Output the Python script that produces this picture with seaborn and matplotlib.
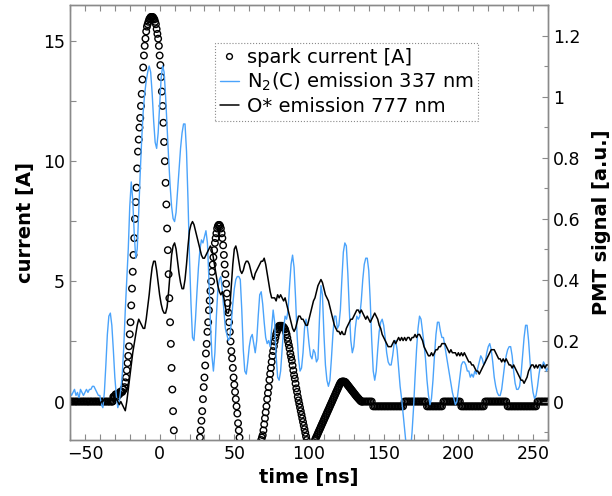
import numpy as np
import matplotlib
matplotlib.use("Agg")
import matplotlib.pyplot as plt
import seaborn as sns
from matplotlib.lines import Line2D
from matplotlib.ticker import MultipleLocator, FuncFormatter

# spark current [A], before the discharge (1 ns steps, -60 .. -33 ns)
current_pre = [0.0, 0.0, 0.0, 0.0, 0.0, 0.0, 0.0, 0.0, 0.0, 0.0,
               0.0, 0.0, 0.0, 0.0, 0.0, 0.0, 0.0, 0.0, 0.0, 0.0,
               0.0, 0.0, 0.0, 0.0, 0.0, 0.0, 0.0, 0.0]

# spark current [A], discharge (0.5 ns steps, -32 .. 136 ns)
current_main = [
    0.0, 0.0, 0.2, 0.2, 0.2, 0.3, 0.3, 0.2, 0.3, 0.3,
    0.3, 0.4, 0.4, 0.4, 0.4, 0.5, 0.5, 0.6, 0.8, 1.0,
    1.3, 1.6, 1.9, 2.3, 2.8, 3.3, 4.0, 4.7, 5.4, 6.1,
    6.8, 7.6, 8.3, 8.9, 9.7, 10.4, 10.9, 11.4, 11.8, 12.3,
    12.8, 13.4, 13.9, 14.4, 14.8, 15.1, 15.4, 15.6, 15.7, 15.8,
    15.9, 15.95, 16.0, 16.0, 16.0, 16.0, 15.95, 15.9, 15.8, 15.7,
    15.5, 15.3, 15.1, 14.8, 14.4, 14.0, 13.5, 12.9, 12.3, 11.6,
    10.8, 10.0, 9.1, 8.2, 7.2, 6.3, 5.3, 4.3, 3.3, 2.4,
    1.4, 0.5, -0.4, -1.2, -2.0, -2.8, -3.6, -4.3, -5.0, -5.6,
    -6.2, -6.7, -7.2, -7.6, -7.9, -8.2, -8.4, -8.5, -8.6, -8.6,
    -8.5, -8.4, -8.2, -7.9, -7.6, -7.2, -6.8, -6.3, -5.8, -5.3,
    -4.8, -4.3, -3.8, -3.3, -2.9, -2.5, -2.1, -1.8, -1.5, -1.2,
    -0.8, -0.4, 0.1, 0.6, 1.0, 1.5, 2.0, 2.4, 2.9, 3.3,
    3.8, 4.2, 4.6, 5.0, 5.4, 5.7, 6.0, 6.3, 6.6, 6.8,
    7.0, 7.2, 7.3, 7.35, 7.35, 7.3, 7.2, 7.0, 6.8, 6.5,
    6.1, 5.7, 5.3, 4.9, 4.5, 4.1, 3.7, 3.3, 2.9, 2.5,
    2.1, 1.8, 1.4, 1.0, 0.7, 0.4, 0.1, -0.2, -0.5, -0.9,
    -1.2, -1.5, -1.8, -2.1, -2.4, -2.7, -3.0, -3.3, -3.5, -3.7,
    -3.9, -4.0, -4.1, -4.2, -4.2, -4.2, -4.1, -4.0, -3.9, -3.7,
    -3.5, -3.3, -3.1, -2.9, -2.7, -2.5, -2.3, -2.1, -1.9, -1.8,
    -1.6, -1.5, -1.4, -1.2, -0.95, -0.7, -0.45, -0.2, 0.1, 0.35,
    0.6, 0.9, 1.15, 1.4, 1.65, 1.9, 2.1, 2.3, 2.5, 2.65,
    2.8, 2.9, 3.0, 3.1, 3.15, 3.15, 3.15, 3.15, 3.15, 3.1,
    3.1, 3.05, 3.0, 2.9, 2.8, 2.65, 2.5, 2.35, 2.2, 2.0,
    1.85, 1.7, 1.5, 1.3, 1.1, 0.95, 0.75, 0.55, 0.4, 0.2,
    0.05, -0.1, -0.25, -0.4, -0.55, -0.7, -0.85, -1.0, -1.15, -1.3,
    -1.45, -1.6, -1.75, -1.9, -2.0, -2.1, -2.15, -2.2, -2.15, -2.05,
    -1.9, -1.75, -1.6, -1.53, -1.46, -1.39, -1.32, -1.25, -1.18, -1.11,
    -1.04, -0.97, -0.9, -0.83, -0.76, -0.69, -0.62, -0.55, -0.48, -0.41,
    -0.34, -0.27, -0.2, -0.13, -0.06, 0.01, 0.08, 0.15, 0.22, 0.29,
    0.36, 0.43, 0.5, 0.57, 0.64, 0.71, 0.77, 0.81, 0.83, 0.83,
    0.83, 0.83, 0.82, 0.8, 0.76, 0.72, 0.68, 0.64, 0.6, 0.56,
    0.52, 0.48, 0.44, 0.4, 0.36, 0.32, 0.28, 0.24, 0.2, 0.17,
    0.13, 0.1, 0.06, 0.03, 0.0, 0.0, 0.0]

# spark current [A], after the discharge (1 ns steps, 137 .. 260 ns)
current_post = [
    0.0, 0.0, 0.0, 0.0, 0.0, 0.0, -0.2, -0.2, -0.2, -0.2,
    -0.2, -0.2, -0.2, -0.2, -0.2, -0.2, -0.2, -0.2, -0.2, -0.2,
    -0.2, -0.2, -0.2, -0.2, -0.2, -0.2, -0.2, 0.0, 0.0, 0.0,
    0.0, 0.0, 0.0, 0.0, 0.0, 0.0, 0.0, 0.0, 0.0, 0.0,
    0.0, 0.0, -0.2, -0.2, -0.2, -0.2, -0.2, -0.2, -0.2, -0.2,
    -0.2, -0.2, -0.2, 0.0, 0.0, 0.0, 0.0, 0.0, 0.0, 0.0,
    0.0, 0.0, 0.0, 0.0, 0.0, -0.2, -0.2, -0.2, -0.2, -0.2,
    -0.2, -0.2, -0.2, -0.2, -0.2, -0.2, -0.2, -0.2, -0.2, -0.2,
    -0.2, 0.0, 0.0, 0.0, 0.0, 0.0, 0.0, 0.0, 0.0, 0.0,
    0.0, 0.0, 0.0, 0.0, 0.0, 0.0, -0.2, -0.2, -0.2, -0.2,
    -0.2, -0.2, -0.2, -0.2, -0.2, -0.2, -0.2, -0.2, -0.2, -0.2,
    -0.2, -0.2, -0.2, -0.2, -0.2, -0.2, 0.0, 0.0, 0.0, 0.0,
    0.0, 0.0, 0.0, 0.0]

# N2(C) emission 337 nm, PMT signal [a.u.], 1 ns steps from -60 to 260 ns
n2_signal = [
    0.03, 0.02, 0.03, 0.04, 0.02, 0.03, 0.01, 0.04, 0.03, 0.02,
    0.03, 0.04, 0.03, 0.04, 0.04, 0.05, 0.05, 0.04, 0.03, 0.02,
    0.02, -0.01, -0.02, 0.03, 0.12, 0.22, 0.28, 0.29, 0.25, 0.17,
    0.08, 0.02, -0.02, 0.00, 0.04, 0.09, 0.18, 0.30, 0.40, 0.50,
    0.64, 0.72, 0.66, 0.55, 0.47, 0.50, 0.62, 0.75, 0.86, 0.95,
    1.01, 1.05, 1.08, 1.10, 1.08, 1.01, 0.92, 0.85, 0.83, 0.88,
    0.97, 1.06, 1.10, 1.08, 1.00, 0.90, 0.80, 0.71, 0.64, 0.60,
    0.59, 0.62, 0.69, 0.76, 0.83, 0.88, 0.91, 0.91, 0.82, 0.66,
    0.47, 0.32, 0.21, 0.20, 0.27, 0.36, 0.44, 0.50, 0.53, 0.52,
    0.54, 0.56, 0.52, 0.40, 0.26, 0.15, 0.10, 0.16, 0.28, 0.37,
    0.40, 0.41, 0.36, 0.30, 0.24, 0.22, 0.20, 0.21, 0.26, 0.32,
    0.37, 0.40, 0.41, 0.41, 0.40, 0.30, 0.17, 0.10, 0.09, 0.13,
    0.18, 0.21, 0.22, 0.19, 0.16, 0.20, 0.28, 0.35, 0.36, 0.32,
    0.26, 0.21, 0.19, 0.20, 0.18, 0.24, 0.30, 0.26, 0.15, 0.08,
    0.07, 0.10, 0.17, 0.24, 0.28, 0.27, 0.30, 0.38, 0.45, 0.48,
    0.44, 0.34, 0.22, 0.14, 0.10, 0.11, 0.16, 0.24, 0.27, 0.24,
    0.19, 0.15, 0.14, 0.17, 0.16, 0.13, 0.14, 0.27, 0.38, 0.35,
    0.22, 0.12, 0.07, 0.05, 0.07, 0.14, 0.22, 0.28, 0.28, 0.24,
    0.25, 0.30, 0.40, 0.49, 0.52, 0.51, 0.42, 0.30, 0.20, 0.16,
    0.18, 0.24, 0.28, 0.27, 0.28, 0.33, 0.40, 0.45, 0.47, 0.47,
    0.43, 0.33, 0.20, 0.10, 0.07, 0.10, 0.17, 0.23, 0.26, 0.27,
    0.25, 0.21, 0.16, 0.13, 0.12, 0.12, 0.15, 0.19, 0.20, 0.17,
    0.11, 0.05, 0.01, -0.04, -0.09, -0.14, -0.16, -0.18, -0.16, -0.10,
    -0.02, 0.08, 0.17, 0.24, 0.28, 0.27, 0.23, 0.19, 0.14, 0.07,
    0.02, -0.01, 0.01, 0.07, 0.15, 0.22, 0.26, 0.26, 0.23, 0.21,
    0.21, 0.18, 0.15, 0.12, 0.09, 0.06, 0.03, 0.01, -0.01, 0.00,
    0.04, 0.08, 0.12, 0.13, 0.13, 0.12, 0.10, 0.10, 0.08, 0.09,
    0.08, 0.10, 0.09, 0.11, 0.13, 0.15, 0.14, 0.12, 0.13, 0.16,
    0.18, 0.19, 0.17, 0.13, 0.08, 0.05, 0.03, 0.02, 0.02, 0.04,
    0.08, 0.12, 0.15, 0.17, 0.18, 0.18, 0.15, 0.10, 0.06, 0.04,
    0.04, 0.05, 0.09, 0.15, 0.21, 0.25, 0.25, 0.20, 0.13, 0.07,
    0.03, 0.01, 0.02, 0.05, 0.09, 0.12, 0.11, 0.13, 0.12, 0.10,
    0.11]

# O* emission 777 nm, PMT signal [a.u.], 1 ns steps from -60 to 260 ns
o_signal = [
    0.00, 0.01, 0.00, 0.00, -0.01, 0.00, 0.01, 0.00, 0.00, 0.01,
    0.00, 0.00, -0.01, 0.00, 0.01, 0.00, 0.00, 0.01, 0.00, 0.00,
    -0.01, 0.00, 0.00, 0.01, 0.00, 0.00, -0.01, 0.00, 0.01, 0.00,
    0.00, 0.01, 0.00, -0.01, 0.00, -0.01, -0.02, -0.03, 0.00, 0.04,
    0.08, 0.12, 0.16, 0.19, 0.22, 0.25, 0.27, 0.26, 0.25, 0.24,
    0.24, 0.27, 0.31, 0.35, 0.40, 0.44, 0.46, 0.46, 0.43, 0.39,
    0.35, 0.32, 0.30, 0.29, 0.29, 0.31, 0.36, 0.42, 0.48, 0.51,
    0.52, 0.50, 0.46, 0.42, 0.39, 0.37, 0.37, 0.40, 0.45, 0.51,
    0.56, 0.58, 0.59, 0.58, 0.56, 0.54, 0.52, 0.50, 0.48, 0.47,
    0.47, 0.48, 0.49, 0.50, 0.51, 0.50, 0.47, 0.44, 0.41, 0.38,
    0.36, 0.35, 0.36, 0.34, 0.31, 0.29, 0.29, 0.31, 0.38, 0.45,
    0.50, 0.51, 0.49, 0.46, 0.43, 0.42, 0.43, 0.45, 0.46, 0.46,
    0.45, 0.43, 0.41, 0.40, 0.42, 0.43, 0.44, 0.45, 0.46, 0.46,
    0.47, 0.45, 0.42, 0.39, 0.36, 0.34, 0.34, 0.34, 0.33, 0.35,
    0.34, 0.35, 0.34, 0.33, 0.34, 0.32, 0.30, 0.28, 0.26, 0.24,
    0.23, 0.24, 0.26, 0.28, 0.28, 0.27, 0.27, 0.26, 0.25, 0.25,
    0.27, 0.29, 0.31, 0.33, 0.34, 0.36, 0.38, 0.39, 0.40, 0.39,
    0.37, 0.35, 0.34, 0.33, 0.31, 0.29, 0.27, 0.25, 0.24, 0.23,
    0.23, 0.22, 0.23, 0.22, 0.22, 0.24, 0.25, 0.26, 0.27, 0.27,
    0.28, 0.29, 0.30, 0.30, 0.29, 0.30, 0.29, 0.28, 0.27, 0.28,
    0.27, 0.26, 0.27, 0.28, 0.29, 0.28, 0.27, 0.25, 0.24, 0.22,
    0.21, 0.20, 0.19, 0.18, 0.18, 0.18, 0.19, 0.20, 0.19, 0.20,
    0.21, 0.20, 0.21, 0.20, 0.21, 0.20, 0.21, 0.21, 0.20, 0.21,
    0.21, 0.22, 0.21, 0.22, 0.22, 0.21, 0.20, 0.18, 0.17, 0.16,
    0.15, 0.15, 0.16, 0.15, 0.16, 0.17, 0.17, 0.18, 0.18, 0.19,
    0.19, 0.19, 0.18, 0.17, 0.16, 0.17, 0.16, 0.16, 0.16, 0.15,
    0.16, 0.15, 0.16, 0.15, 0.16, 0.15, 0.14, 0.13, 0.13, 0.12,
    0.12, 0.11, 0.10, 0.10, 0.09, 0.10, 0.11, 0.12, 0.13, 0.14,
    0.15, 0.16, 0.17, 0.17, 0.17, 0.16, 0.15, 0.14, 0.14, 0.13,
    0.14, 0.13, 0.14, 0.13, 0.12, 0.12, 0.11, 0.12, 0.11, 0.10,
    0.09, 0.08, 0.07, 0.07, 0.06, 0.07, 0.08, 0.10, 0.11, 0.12,
    0.12, 0.11, 0.12, 0.11, 0.12, 0.12, 0.11, 0.12, 0.11, 0.12,
    0.12]

legend_labels = ["spark current [A]", "N$_2$(C) emission 337 nm", "O* emission 777 nm"]

# time axes (sampling grids)
t_pre = -60 + 1.0 * np.arange(len(current_pre))
t_main = -32 + 0.5 * np.arange(len(current_main))
t_post = 137 + 1.0 * np.arange(len(current_post))
t_current = np.concatenate([t_pre, t_main, t_post])
current = np.concatenate([current_pre, current_main, current_post])
t_pmt = -60 + 1.0 * np.arange(len(n2_signal))

blue = "#4aa3fb"
frame_gray = "#8a8a8a"

sns.set_style("ticks")
plt.rcParams["font.family"] = ["DejaVu Sans"]
plt.rcParams["text.color"] = "black"
plt.rcParams["axes.labelcolor"] = "black"
plt.rcParams["xtick.labelcolor"] = "black"
plt.rcParams["ytick.labelcolor"] = "black"

fig = plt.figure(figsize=(6.12, 4.96), dpi=100)
ax = fig.add_axes([0.1144, 0.1129, 0.781, 0.877])
ax2 = ax.twinx()

# spark current as open circles (left axis)
sns.scatterplot(x=t_current, y=current, ax=ax, marker="o", s=22,
                facecolor="none", edgecolor="black", linewidth=1.0,
                legend=False, zorder=3)

# PMT signals (right axis)
sns.lineplot(x=t_pmt, y=n2_signal, ax=ax2, color=blue, linewidth=1.0,
             legend=False)
sns.lineplot(x=t_pmt, y=o_signal, ax=ax2, color="black", linewidth=1.1,
             legend=False)

ax.set_xlim(-60, 260)
ax.set_ylim(-1.6, 16.5)
ax2.set_ylim(-0.126, 1.3)

ax.xaxis.set_major_locator(MultipleLocator(50))
ax.xaxis.set_minor_locator(MultipleLocator(10))
ax.yaxis.set_major_locator(MultipleLocator(5))
ax.yaxis.set_minor_locator(MultipleLocator(2.5))
ax2.yaxis.set_major_locator(MultipleLocator(0.2))
ax2.yaxis.set_minor_locator(MultipleLocator(0.1))
ax2.yaxis.set_major_formatter(FuncFormatter(lambda v, p: f"{abs(v) if abs(v) < 1e-9 else v:g}"))

ax.tick_params(which="both", direction="in", top=True, right=False,
               length=4, width=0.8, color=frame_gray, labelsize=12.5,
               labelcolor="black")
ax2.tick_params(which="both", direction="in", length=4, width=0.8,
                color=frame_gray, labelsize=12.5, labelcolor="black")
ax2.tick_params(which="minor", length=3)

for a in (ax, ax2):
    for sp in a.spines.values():
        sp.set_color(frame_gray)
        sp.set_linewidth(1.0)

ax.set_xlabel("time [ns]", fontsize=14, fontweight="bold", labelpad=4, color="black")
ax.set_ylabel("current [A]", fontsize=14, fontweight="bold", labelpad=6, color="black")
ax2.set_ylabel("PMT signal [a.u.]", fontsize=14, fontweight="bold", labelpad=8,
               color="black")

handles = [
    Line2D([], [], linestyle="none", marker="o", markersize=4.2,
           markerfacecolor="none", markeredgecolor="black", markeredgewidth=1.0),
    Line2D([], [], color=blue, linewidth=1.0),
    Line2D([], [], color="black", linewidth=1.1),
]
leg = ax2.legend(handles, legend_labels, loc="upper left",
                 bbox_to_anchor=(0.303, 0.913), fontsize=14, frameon=True,
                 fancybox=False, edgecolor=frame_gray, framealpha=1,
                 labelspacing=0.2, handlelength=1.0, handletextpad=0.4,
                 borderpad=0.25, borderaxespad=0)
leg.get_frame().set_linestyle(":")
leg.get_frame().set_linewidth(0.8)
for txt in leg.get_texts():
    txt.set_color("black")

fig.savefig("out.png", dpi=100)
plt.close(fig)
